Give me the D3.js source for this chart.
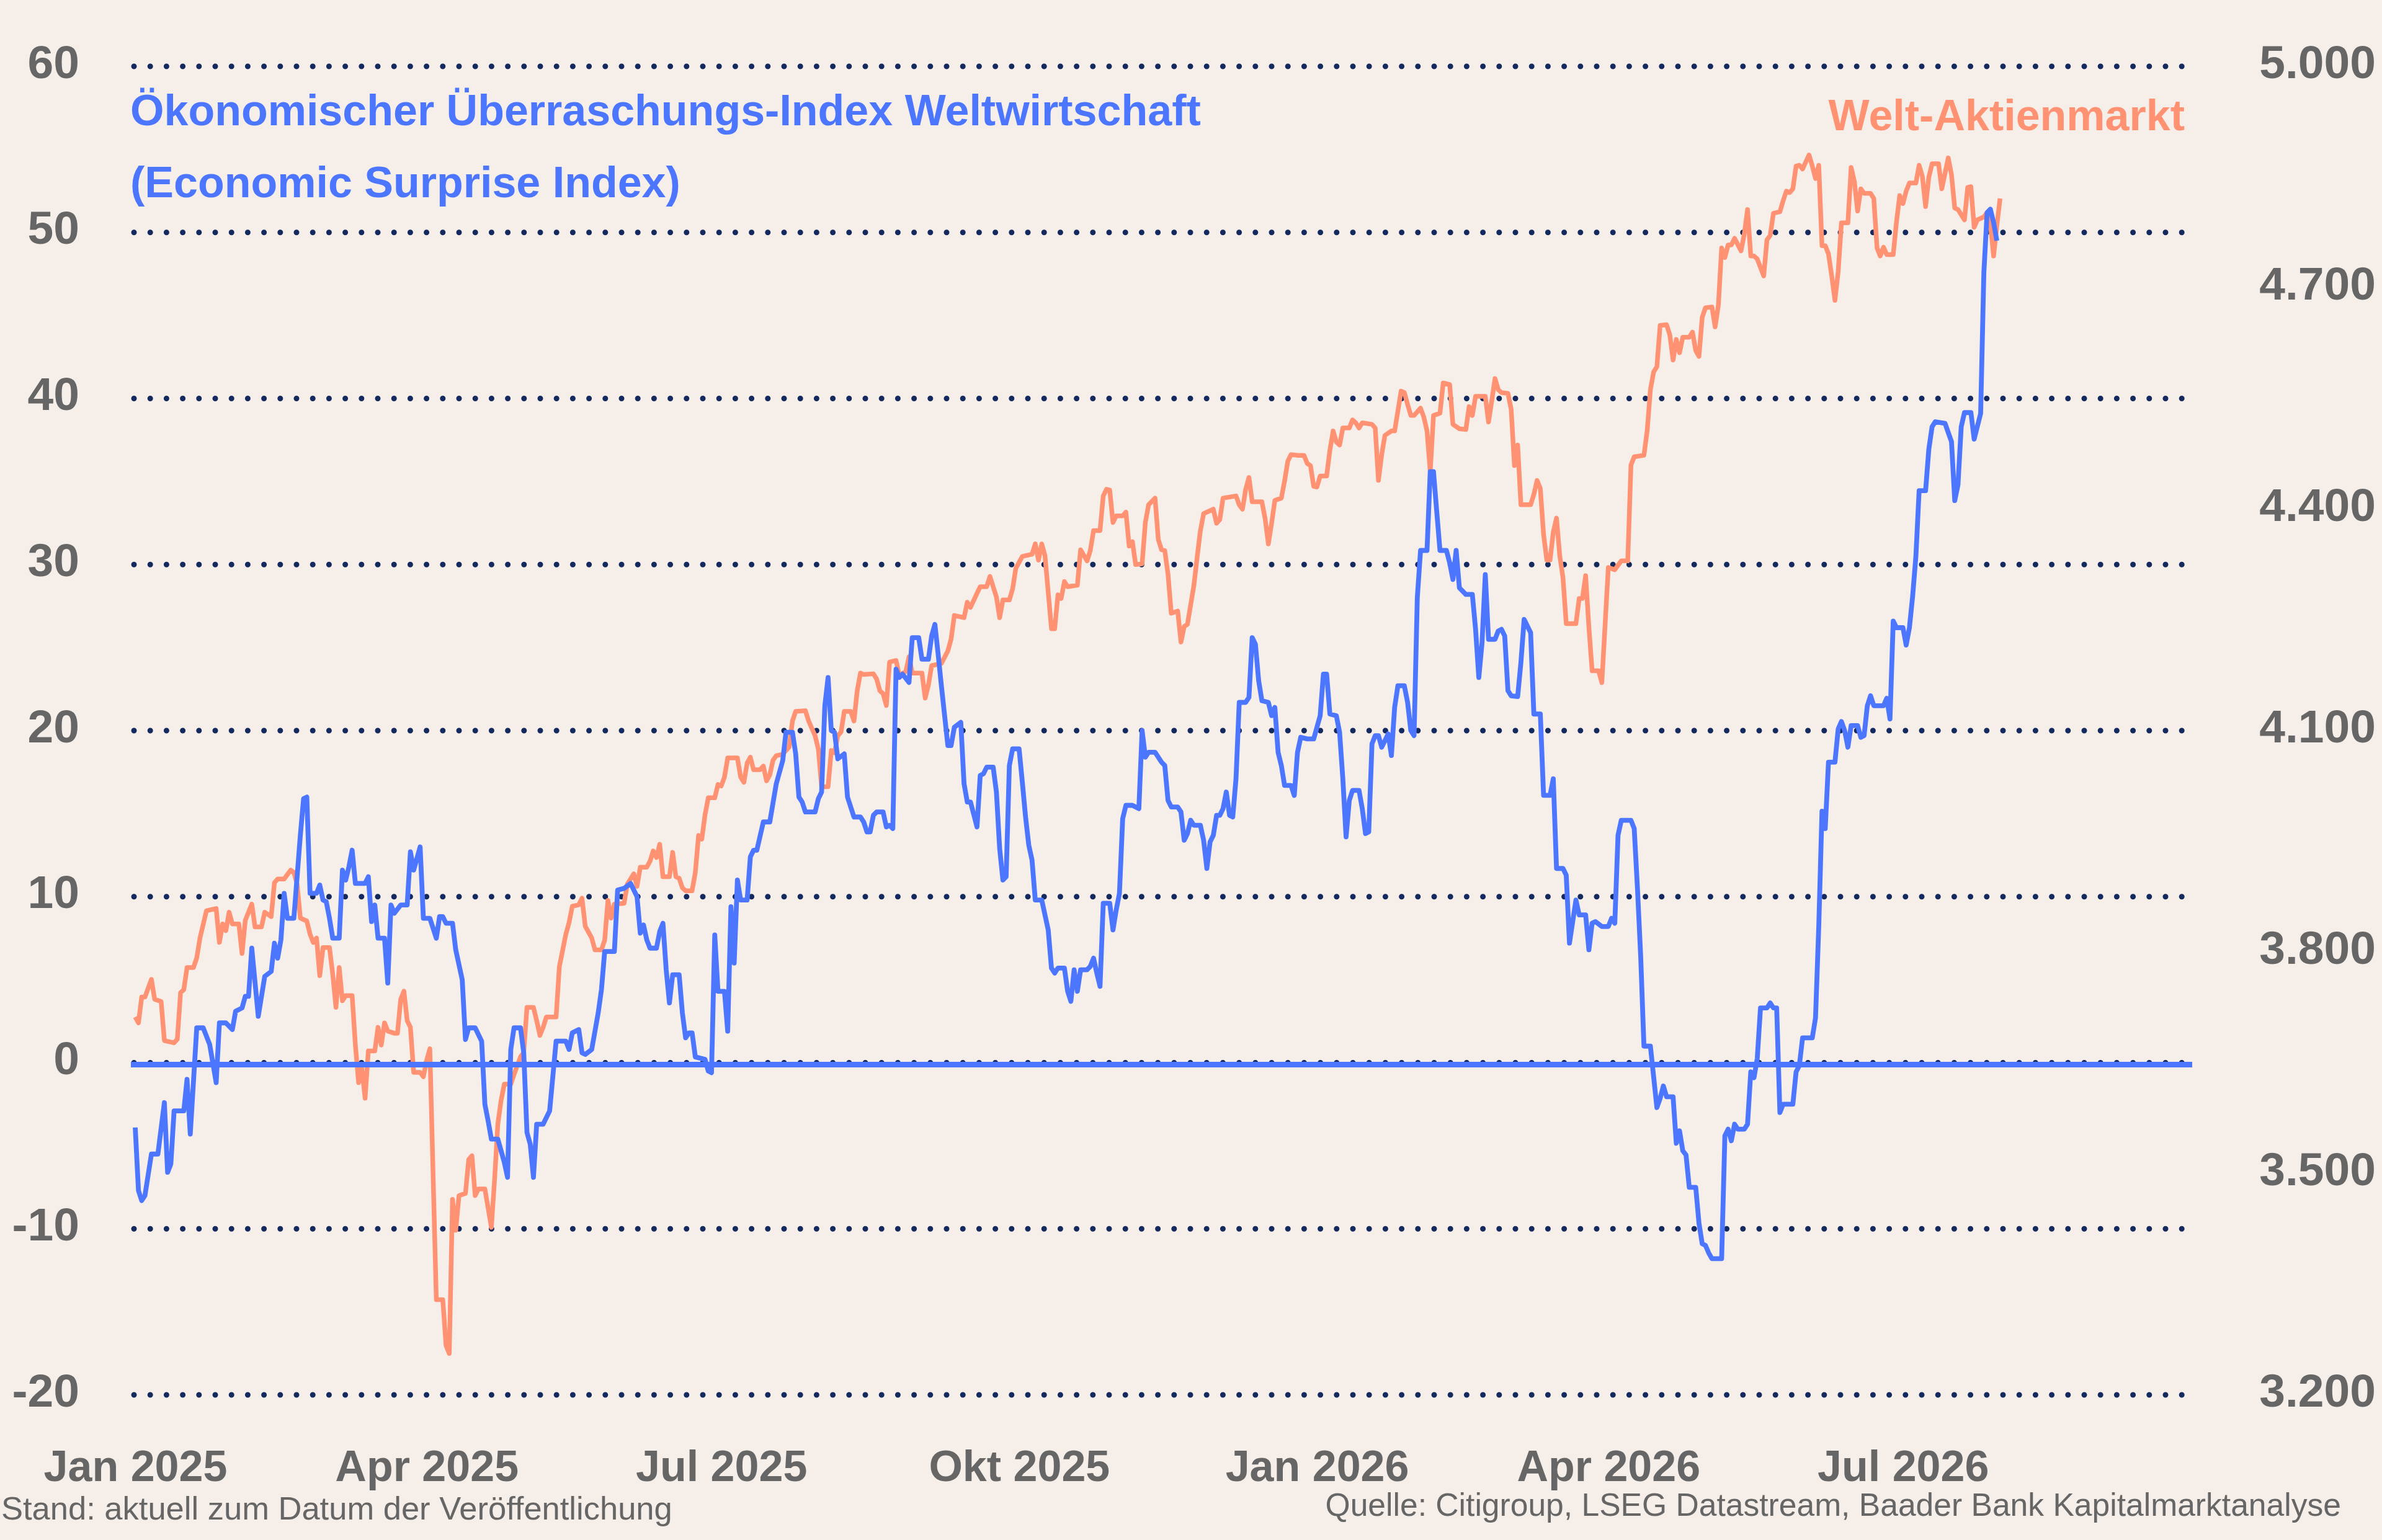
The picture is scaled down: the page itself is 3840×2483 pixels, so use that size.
<!DOCTYPE html>
<html lang="de">
<head>
<meta charset="utf-8">
<title>Economic Surprise Index vs. Welt-Aktienmarkt</title>
<script src="https://cdn.jsdelivr.net/npm/d3@7"></script>
<style>
    html, body { margin: 0; padding: 0; background: #f6efe9; }
    svg { display: block; font-family: 'Liberation Sans', Arial, sans-serif; }
</style>
</head>
<body>
<div id="chart"></div>
<script>
'use strict';
// left axis (surprise index) and right axis (world equities) ticks
const esiTicks = [-20, -10, 0, 10, 20, 30, 40, 50, 60]
const stockTicks = [3200, 3500, 3800, 4100, 4400, 4700, 5000]
const monthTicks = ['2025-01-01', '2025-04-01', '2025-07-01', '2025-10-01', '2026-01-01', '2026-04-01', '2026-07-01']
const monthLabels = ['Jan 2025', 'Apr 2025', 'Jul 2025', 'Okt 2025', 'Jan 2026', 'Apr 2026', 'Jul 2026']

// Citi Economic Surprise Index, global
const esiData = [
    ['2025-01-01', -3.9], ['2025-01-02', -7.7], ['2025-01-03', -8.3], ['2025-01-04', -8.0], ['2025-01-06', -5.5],
    ['2025-01-08', -5.5], ['2025-01-10', -2.4], ['2025-01-11', -6.6], ['2025-01-12', -6.1], ['2025-01-13', -2.9],
    ['2025-01-16', -2.9], ['2025-01-17', -1.0], ['2025-01-18', -4.3], ['2025-01-20', 2.1], ['2025-01-22', 2.1],
    ['2025-01-24', 1.1], ['2025-01-26', -1.2], ['2025-01-27', 2.4], ['2025-01-29', 2.4], ['2025-01-31', 2.0],
    ['2025-02-01', 3.1], ['2025-02-03', 3.3], ['2025-02-04', 4.0], ['2025-02-05', 4.0], ['2025-02-06', 6.9],
    ['2025-02-08', 2.8], ['2025-02-10', 5.2], ['2025-02-12', 5.5], ['2025-02-13', 7.2], ['2025-02-14', 6.3],
    ['2025-02-15', 7.4], ['2025-02-16', 10.2], ['2025-02-17', 8.7], ['2025-02-19', 8.7], ['2025-02-21', 13.7],
    ['2025-02-22', 15.9], ['2025-02-23', 16.0], ['2025-02-24', 10.2], ['2025-02-26', 10.2], ['2025-02-27', 10.7],
    ['2025-02-28', 9.8], ['2025-03-01', 9.7], ['2025-03-02', 8.7], ['2025-03-03', 7.5], ['2025-03-05', 7.5],
    ['2025-03-06', 11.6], ['2025-03-07', 11.0], ['2025-03-08', 11.8], ['2025-03-09', 12.8], ['2025-03-10', 10.8],
    ['2025-03-13', 10.8], ['2025-03-14', 11.2], ['2025-03-15', 8.5], ['2025-03-16', 9.5], ['2025-03-17', 7.5],
    ['2025-03-19', 7.5], ['2025-03-20', 4.8], ['2025-03-21', 9.5], ['2025-03-22', 9.0], ['2025-03-24', 9.5],
    ['2025-03-26', 9.5], ['2025-03-27', 12.7], ['2025-03-28', 11.6], ['2025-03-30', 13.0], ['2025-03-31', 8.7],
    ['2025-04-02', 8.7], ['2025-04-04', 7.5], ['2025-04-05', 8.8], ['2025-04-06', 8.8], ['2025-04-07', 8.4],
    ['2025-04-09', 8.4], ['2025-04-10', 6.8], ['2025-04-12', 5.0], ['2025-04-13', 1.4], ['2025-04-14', 2.1],
    ['2025-04-16', 2.1], ['2025-04-18', 1.3], ['2025-04-19', -2.5], ['2025-04-20', -3.5], ['2025-04-21', -4.6],
    ['2025-04-23', -4.6], ['2025-04-25', -6.0], ['2025-04-26', -6.9], ['2025-04-27', 0.8], ['2025-04-28', 2.1],
    ['2025-04-30', 2.1], ['2025-05-01', 0.6], ['2025-05-02', -4.2], ['2025-05-03', -4.9], ['2025-05-04', -6.9],
    ['2025-05-05', -3.7], ['2025-05-07', -3.7], ['2025-05-09', -2.9], ['2025-05-10', -0.8], ['2025-05-11', 1.3],
    ['2025-05-14', 1.3], ['2025-05-15', 0.8], ['2025-05-16', 1.8], ['2025-05-18', 2.0], ['2025-05-19', 0.6],
    ['2025-05-20', 0.5], ['2025-05-22', 0.8], ['2025-05-24', 3.0], ['2025-05-25', 4.4], ['2025-05-26', 6.7],
    ['2025-05-29', 6.7], ['2025-05-30', 10.4], ['2025-06-01', 10.5], ['2025-06-03', 10.8], ['2025-06-05', 10.0],
    ['2025-06-06', 7.8], ['2025-06-07', 8.3], ['2025-06-08', 7.4], ['2025-06-09', 6.9], ['2025-06-11', 6.9],
    ['2025-06-12', 7.9], ['2025-06-13', 8.4], ['2025-06-14', 5.6], ['2025-06-15', 3.6], ['2025-06-16', 5.3],
    ['2025-06-18', 5.3], ['2025-06-19', 3.0], ['2025-06-20', 1.5], ['2025-06-21', 1.8], ['2025-06-22', 1.8],
    ['2025-06-23', 0.35], ['2025-06-26', 0.2], ['2025-06-27', -0.5], ['2025-06-28', -0.6], ['2025-06-29', 7.7],
    ['2025-06-30', 4.3], ['2025-07-02', 4.3], ['2025-07-03', 1.9], ['2025-07-04', 9.4], ['2025-07-05', 6.0],
    ['2025-07-06', 11.0], ['2025-07-07', 9.8], ['2025-07-09', 9.8], ['2025-07-10', 12.4], ['2025-07-11', 12.8],
    ['2025-07-12', 12.8], ['2025-07-14', 14.5], ['2025-07-16', 14.5], ['2025-07-18', 16.8], ['2025-07-20', 18.2],
    ['2025-07-21', 19.9], ['2025-07-23', 19.9], ['2025-07-24', 18.6], ['2025-07-25', 16.0], ['2025-07-26', 15.7],
    ['2025-07-27', 15.1], ['2025-07-30', 15.1], ['2025-07-31', 15.9], ['2025-08-01', 16.3], ['2025-08-02', 21.5],
    ['2025-08-03', 23.2], ['2025-08-04', 20.0], ['2025-08-05', 19.9], ['2025-08-06', 18.3], ['2025-08-08', 18.6],
    ['2025-08-09', 16.0], ['2025-08-11', 14.8], ['2025-08-13', 14.8], ['2025-08-14', 14.5], ['2025-08-15', 13.9],
    ['2025-08-16', 13.9], ['2025-08-17', 14.9], ['2025-08-18', 15.1], ['2025-08-20', 15.1], ['2025-08-21', 14.2],
    ['2025-08-22', 14.3], ['2025-08-23', 14.1], ['2025-08-24', 23.7], ['2025-08-25', 23.2], ['2025-08-26', 23.4],
    ['2025-08-28', 22.9], ['2025-08-29', 25.6], ['2025-08-31', 25.6], ['2025-09-01', 24.3], ['2025-09-03', 24.3],
    ['2025-09-04', 25.7], ['2025-09-05', 26.4], ['2025-09-06', 24.6], ['2025-09-07', 22.7], ['2025-09-08', 20.9],
    ['2025-09-09', 19.1], ['2025-09-10', 19.1], ['2025-09-11', 20.2], ['2025-09-13', 20.5], ['2025-09-14', 16.8],
    ['2025-09-15', 15.7], ['2025-09-16', 15.7], ['2025-09-18', 14.2], ['2025-09-19', 17.3], ['2025-09-20', 17.4],
    ['2025-09-21', 17.8], ['2025-09-23', 17.8], ['2025-09-24', 16.3], ['2025-09-25', 12.9], ['2025-09-26', 11.0],
    ['2025-09-27', 11.2], ['2025-09-28', 17.9], ['2025-09-29', 18.9], ['2025-10-01', 18.9], ['2025-10-02', 16.9],
    ['2025-10-03', 14.8], ['2025-10-04', 13.1], ['2025-10-05', 12.2], ['2025-10-06', 9.8], ['2025-10-08', 9.8],
    ['2025-10-09', 8.9], ['2025-10-10', 8.0], ['2025-10-11', 5.7], ['2025-10-12', 5.4], ['2025-10-13', 5.7],
    ['2025-10-15', 5.7], ['2025-10-16', 4.3], ['2025-10-17', 3.7], ['2025-10-18', 5.6], ['2025-10-19', 4.3],
    ['2025-10-20', 5.6], ['2025-10-22', 5.6], ['2025-10-23', 5.8], ['2025-10-24', 6.3], ['2025-10-25', 5.4],
    ['2025-10-26', 4.6], ['2025-10-27', 9.6], ['2025-10-29', 9.6], ['2025-10-30', 8.0], ['2025-10-31', 9.2],
    ['2025-11-01', 10.2], ['2025-11-02', 14.7], ['2025-11-03', 15.5], ['2025-11-05', 15.5], ['2025-11-07', 15.3],
    ['2025-11-08', 20.0], ['2025-11-09', 18.4], ['2025-11-10', 18.7], ['2025-11-12', 18.7], ['2025-11-14', 18.1],
    ['2025-11-15', 17.9], ['2025-11-16', 15.8], ['2025-11-17', 15.4], ['2025-11-19', 15.4], ['2025-11-20', 15.1],
    ['2025-11-21', 13.4], ['2025-11-22', 13.8], ['2025-11-23', 14.6], ['2025-11-24', 14.3], ['2025-11-26', 14.3],
    ['2025-11-27', 13.4], ['2025-11-28', 11.7], ['2025-11-29', 13.3], ['2025-11-30', 13.7], ['2025-12-01', 14.9],
    ['2025-12-02', 14.9], ['2025-12-03', 15.3], ['2025-12-04', 16.3], ['2025-12-05', 14.9], ['2025-12-06', 14.8],
    ['2025-12-07', 17.1], ['2025-12-08', 21.7], ['2025-12-10', 21.7], ['2025-12-11', 22.0], ['2025-12-12', 25.6],
    ['2025-12-13', 25.2], ['2025-12-14', 23.0], ['2025-12-15', 21.8], ['2025-12-17', 21.7], ['2025-12-18', 20.9],
    ['2025-12-19', 21.4], ['2025-12-20', 18.7], ['2025-12-21', 17.9], ['2025-12-22', 16.7], ['2025-12-24', 16.7],
    ['2025-12-25', 16.1], ['2025-12-26', 18.7], ['2025-12-27', 19.6], ['2025-12-29', 19.5], ['2025-12-31', 19.5],
    ['2026-01-01', 20.2], ['2026-01-02', 20.9], ['2026-01-03', 23.4], ['2026-01-04', 23.4], ['2026-01-05', 21.0],
    ['2026-01-07', 20.9], ['2026-01-08', 19.9], ['2026-01-09', 17.1], ['2026-01-10', 13.6], ['2026-01-11', 15.8],
    ['2026-01-12', 16.4], ['2026-01-14', 16.4], ['2026-01-15', 15.3], ['2026-01-16', 13.8], ['2026-01-17', 13.9],
    ['2026-01-18', 19.2], ['2026-01-19', 19.7], ['2026-01-20', 19.7], ['2026-01-21', 19.0], ['2026-01-23', 19.8],
    ['2026-01-24', 18.5], ['2026-01-25', 21.4], ['2026-01-26', 22.7], ['2026-01-28', 22.7], ['2026-01-29', 21.7],
    ['2026-01-30', 20.0], ['2026-01-31', 19.7], ['2026-02-01', 28.0], ['2026-02-02', 30.85], ['2026-02-04', 30.85],
    ['2026-02-05', 35.6], ['2026-02-06', 35.6], ['2026-02-07', 33.2], ['2026-02-08', 30.85], ['2026-02-10', 30.85],
    ['2026-02-11', 30.1], ['2026-02-12', 29.1], ['2026-02-13', 30.85], ['2026-02-14', 28.6], ['2026-02-16', 28.2],
    ['2026-02-18', 28.2], ['2026-02-19', 26.1], ['2026-02-20', 23.2], ['2026-02-21', 25.3], ['2026-02-22', 29.4],
    ['2026-02-23', 25.5], ['2026-02-25', 25.5], ['2026-02-26', 26.0], ['2026-02-27', 26.1], ['2026-02-28', 25.7],
    ['2026-03-01', 22.4], ['2026-03-02', 22.1], ['2026-03-04', 22.05], ['2026-03-05', 24.1], ['2026-03-06', 26.7],
    ['2026-03-08', 25.9], ['2026-03-09', 21.0], ['2026-03-11', 21.0], ['2026-03-12', 16.1], ['2026-03-14', 16.1],
    ['2026-03-15', 17.1], ['2026-03-16', 11.7], ['2026-03-18', 11.7], ['2026-03-19', 11.3], ['2026-03-20', 7.2],
    ['2026-03-22', 9.8], ['2026-03-23', 8.9], ['2026-03-25', 8.9], ['2026-03-26', 6.8], ['2026-03-27', 8.4],
    ['2026-03-28', 8.5], ['2026-03-30', 8.2], ['2026-04-01', 8.2], ['2026-04-02', 8.7], ['2026-04-03', 8.4],
    ['2026-04-04', 13.7], ['2026-04-05', 14.6], ['2026-04-08', 14.6], ['2026-04-09', 14.1], ['2026-04-10', 10.5],
    ['2026-04-11', 6.4], ['2026-04-12', 1.0], ['2026-04-14', 1.0], ['2026-04-16', -2.7], ['2026-04-17', -2.15],
    ['2026-04-18', -1.4], ['2026-04-19', -2.05], ['2026-04-21', -2.05], ['2026-04-22', -4.85], ['2026-04-23', -4.1],
    ['2026-04-24', -5.3], ['2026-04-25', -5.55], ['2026-04-26', -7.5], ['2026-04-28', -7.5], ['2026-04-29', -9.66],
    ['2026-04-30', -10.9], ['2026-05-01', -11.0], ['2026-05-02', -11.45], ['2026-05-03', -11.8], ['2026-05-06', -11.8],
    ['2026-05-07', -4.4], ['2026-05-08', -4.0], ['2026-05-09', -4.7], ['2026-05-10', -3.7], ['2026-05-11', -4.0],
    ['2026-05-13', -4.0], ['2026-05-14', -3.7], ['2026-05-15', -0.55], ['2026-05-16', -0.9], ['2026-05-17', 0.26],
    ['2026-05-18', 3.3], ['2026-05-20', 3.3], ['2026-05-21', 3.6], ['2026-05-22', 3.3], ['2026-05-23', 3.3],
    ['2026-05-24', -3.0], ['2026-05-25', -2.5], ['2026-05-28', -2.5], ['2026-05-29', -0.55], ['2026-05-30', -0.17],
    ['2026-05-31', 1.5], ['2026-06-03', 1.5], ['2026-06-04', 2.7], ['2026-06-05', 8.2], ['2026-06-06', 15.15],
    ['2026-06-07', 14.1], ['2026-06-08', 18.1], ['2026-06-10', 18.1], ['2026-06-11', 20.1], ['2026-06-12', 20.55],
    ['2026-06-13', 20.0], ['2026-06-14', 19.0], ['2026-06-15', 20.3], ['2026-06-17', 20.3], ['2026-06-18', 19.6],
    ['2026-06-19', 19.7], ['2026-06-20', 21.5], ['2026-06-21', 22.1], ['2026-06-22', 21.5], ['2026-06-25', 21.5],
    ['2026-06-26', 21.95], ['2026-06-27', 20.7], ['2026-06-28', 26.6], ['2026-06-29', 26.2], ['2026-07-01', 26.2],
    ['2026-07-02', 25.15], ['2026-07-03', 26.2], ['2026-07-04', 28.1], ['2026-07-05', 30.5], ['2026-07-06', 34.45],
    ['2026-07-08', 34.45], ['2026-07-09', 36.95], ['2026-07-10', 38.3], ['2026-07-11', 38.6], ['2026-07-14', 38.5],
    ['2026-07-16', 37.4], ['2026-07-17', 33.85], ['2026-07-18', 34.8], ['2026-07-19', 38.3], ['2026-07-20', 39.15],
    ['2026-07-22', 39.15], ['2026-07-23', 37.55], ['2026-07-25', 39.1], ['2026-07-26', 47.6], ['2026-07-27', 51.2],
    ['2026-07-28', 51.4], ['2026-07-29', 50.6], ['2026-07-30', 49.5]
]

// world equity index, right axis
const stockData = [
    ['2025-01-01', 3712], ['2025-01-02', 3704], ['2025-01-03', 3739], ['2025-01-04', 3739], ['2025-01-06', 3763],
    ['2025-01-07', 3736], ['2025-01-09', 3733], ['2025-01-10', 3680], ['2025-01-13', 3677], ['2025-01-14', 3682],
    ['2025-01-15', 3745], ['2025-01-16', 3749], ['2025-01-17', 3779], ['2025-01-19', 3779], ['2025-01-20', 3792],
    ['2025-01-21', 3819], ['2025-01-23', 3856], ['2025-01-26', 3859], ['2025-01-27', 3813], ['2025-01-28', 3838],
    ['2025-01-29', 3829], ['2025-01-30', 3854], ['2025-01-31', 3838], ['2025-02-02', 3838], ['2025-02-03', 3798],
    ['2025-02-04', 3843], ['2025-02-06', 3865], ['2025-02-07', 3834], ['2025-02-09', 3834], ['2025-02-10', 3854],
    ['2025-02-12', 3848], ['2025-02-13', 3894], ['2025-02-14', 3899], ['2025-02-16', 3899], ['2025-02-18', 3911],
    ['2025-02-19', 3908], ['2025-02-20', 3892], ['2025-02-21', 3846], ['2025-02-23', 3842], ['2025-02-24', 3824],
    ['2025-02-25', 3813], ['2025-02-26', 3819], ['2025-02-27', 3768], ['2025-02-28', 3806], ['2025-03-02', 3806],
    ['2025-03-03', 3770], ['2025-03-04', 3725], ['2025-03-05', 3779], ['2025-03-06', 3734], ['2025-03-07', 3741],
    ['2025-03-09', 3741], ['2025-03-10', 3674], ['2025-03-11', 3623], ['2025-03-12', 3642], ['2025-03-13', 3602],
    ['2025-03-14', 3666], ['2025-03-16', 3666], ['2025-03-17', 3698], ['2025-03-18', 3674], ['2025-03-19', 3704],
    ['2025-03-20', 3693], ['2025-03-22', 3690], ['2025-03-23', 3690], ['2025-03-24', 3736], ['2025-03-25', 3747],
    ['2025-03-26', 3707], ['2025-03-27', 3698], ['2025-03-28', 3637], ['2025-03-30', 3637], ['2025-03-31', 3631],
    ['2025-04-01', 3653], ['2025-04-02', 3669], ['2025-04-04', 3329], ['2025-04-06', 3329], ['2025-04-07', 3267],
    ['2025-04-08', 3256], ['2025-04-09', 3465], ['2025-04-10', 3423], ['2025-04-11', 3470], ['2025-04-13', 3473],
    ['2025-04-14', 3519], ['2025-04-15', 3524], ['2025-04-16', 3470], ['2025-04-17', 3479], ['2025-04-19', 3479],
    ['2025-04-21', 3427], ['2025-04-22', 3492], ['2025-04-23', 3567], ['2025-04-24', 3599], ['2025-04-25', 3621],
    ['2025-04-27', 3621], ['2025-04-28', 3634], ['2025-04-30', 3658], ['2025-05-01', 3664], ['2025-05-02', 3725],
    ['2025-05-04', 3725], ['2025-05-05', 3707], ['2025-05-06', 3687], ['2025-05-07', 3698], ['2025-05-08', 3712],
    ['2025-05-11', 3712], ['2025-05-12', 3780], ['2025-05-14', 3824], ['2025-05-15', 3840], ['2025-05-16', 3862],
    ['2025-05-18', 3864], ['2025-05-19', 3873], ['2025-05-20', 3835], ['2025-05-22', 3819], ['2025-05-23', 3803],
    ['2025-05-25', 3803], ['2025-05-26', 3816], ['2025-05-27', 3870], ['2025-05-28', 3846], ['2025-05-29', 3865],
    ['2025-06-01', 3866], ['2025-06-02', 3892], ['2025-06-04', 3906], ['2025-06-05', 3889], ['2025-06-06', 3915],
    ['2025-06-08', 3915], ['2025-06-09', 3923], ['2025-06-10', 3937], ['2025-06-11', 3928], ['2025-06-12', 3946],
    ['2025-06-13', 3902], ['2025-06-15', 3902], ['2025-06-16', 3935], ['2025-06-17', 3902], ['2025-06-18', 3900],
    ['2025-06-19', 3887], ['2025-06-20', 3883], ['2025-06-22', 3883], ['2025-06-23', 3908], ['2025-06-24', 3958],
    ['2025-06-25', 3953], ['2025-06-26', 3986], ['2025-06-27', 4009], ['2025-06-29', 4009], ['2025-06-30', 4027],
    ['2025-07-01', 4025], ['2025-07-02', 4037], ['2025-07-03', 4063], ['2025-07-06', 4063], ['2025-07-07', 4037],
    ['2025-07-08', 4030], ['2025-07-09', 4056], ['2025-07-10', 4064], ['2025-07-11', 4047], ['2025-07-13', 4047],
    ['2025-07-14', 4052], ['2025-07-15', 4032], ['2025-07-16', 4040], ['2025-07-17', 4060], ['2025-07-18', 4066],
    ['2025-07-20', 4068], ['2025-07-21', 4073], ['2025-07-22', 4078], ['2025-07-23', 4113], ['2025-07-24', 4126],
    ['2025-07-27', 4127], ['2025-07-28', 4113], ['2025-07-29', 4103], ['2025-07-30', 4093], ['2025-07-31', 4075],
    ['2025-08-01', 4024], ['2025-08-03', 4024], ['2025-08-04', 4073], ['2025-08-05', 4070], ['2025-08-06', 4093],
    ['2025-08-07', 4098], ['2025-08-08', 4126], ['2025-08-10', 4126], ['2025-08-11', 4113], ['2025-08-12', 4154],
    ['2025-08-13', 4178], ['2025-08-14', 4176], ['2025-08-17', 4177], ['2025-08-18', 4170], ['2025-08-19', 4154],
    ['2025-08-20', 4150], ['2025-08-21', 4134], ['2025-08-22', 4193], ['2025-08-24', 4195], ['2025-08-25', 4175],
    ['2025-08-27', 4180], ['2025-08-28', 4200], ['2025-08-29', 4178], ['2025-09-01', 4178], ['2025-09-02', 4144],
    ['2025-09-03', 4162], ['2025-09-04', 4188], ['2025-09-07', 4191], ['2025-09-09', 4208], ['2025-09-10', 4224],
    ['2025-09-11', 4256], ['2025-09-14', 4253], ['2025-09-15', 4274], ['2025-09-16', 4267], ['2025-09-18', 4286],
    ['2025-09-19', 4295], ['2025-09-21', 4295], ['2025-09-22', 4309], ['2025-09-24', 4281], ['2025-09-25', 4253],
    ['2025-09-26', 4277], ['2025-09-28', 4277], ['2025-09-29', 4292], ['2025-09-30', 4320], ['2025-10-02', 4336],
    ['2025-10-05', 4339], ['2025-10-06', 4353], ['2025-10-07', 4331], ['2025-10-08', 4353], ['2025-10-09', 4337],
    ['2025-10-11', 4238], ['2025-10-12', 4238], ['2025-10-13', 4284], ['2025-10-14', 4279], ['2025-10-15', 4302],
    ['2025-10-16', 4295], ['2025-10-19', 4297], ['2025-10-20', 4345], ['2025-10-22', 4330], ['2025-10-23', 4344],
    ['2025-10-24', 4371], ['2025-10-26', 4371], ['2025-10-27', 4418], ['2025-10-28', 4427], ['2025-10-29', 4426],
    ['2025-10-30', 4382], ['2025-10-31', 4391], ['2025-11-02', 4391], ['2025-11-03', 4396], ['2025-11-04', 4350],
    ['2025-11-05', 4356], ['2025-11-06', 4325], ['2025-11-08', 4326], ['2025-11-09', 4382], ['2025-11-10', 4406],
    ['2025-11-12', 4415], ['2025-11-13', 4359], ['2025-11-14', 4345], ['2025-11-15', 4344], ['2025-11-16', 4312],
    ['2025-11-17', 4259], ['2025-11-19', 4262], ['2025-11-20', 4220], ['2025-11-21', 4241], ['2025-11-22', 4244],
    ['2025-11-24', 4297], ['2025-11-25', 4335], ['2025-11-26', 4371], ['2025-11-27', 4394], ['2025-11-30', 4400],
    ['2025-12-01', 4381], ['2025-12-02', 4386], ['2025-12-03', 4415], ['2025-12-07', 4418], ['2025-12-08', 4406],
    ['2025-12-09', 4400], ['2025-12-10', 4427], ['2025-12-11', 4443], ['2025-12-12', 4410], ['2025-12-15', 4410],
    ['2025-12-16', 4387], ['2025-12-17', 4353], ['2025-12-18', 4381], ['2025-12-19', 4412], ['2025-12-21', 4415],
    ['2025-12-22', 4438], ['2025-12-23', 4465], ['2025-12-24', 4474], ['2025-12-26', 4473], ['2025-12-28', 4473],
    ['2025-12-29', 4462], ['2025-12-30', 4459], ['2025-12-31', 4431], ['2026-01-01', 4430], ['2026-01-02', 4445],
    ['2026-01-04', 4445], ['2026-01-05', 4480], ['2026-01-06', 4506], ['2026-01-07', 4491], ['2026-01-08', 4487],
    ['2026-01-09', 4510], ['2026-01-11', 4510], ['2026-01-12', 4521], ['2026-01-13', 4517], ['2026-01-14', 4510],
    ['2026-01-15', 4517], ['2026-01-18', 4515], ['2026-01-19', 4510], ['2026-01-20', 4439], ['2026-01-21', 4474],
    ['2026-01-22', 4500], ['2026-01-24', 4506], ['2026-01-25', 4506], ['2026-01-26', 4533], ['2026-01-27', 4560],
    ['2026-01-28', 4558], ['2026-01-29', 4542], ['2026-01-30', 4527], ['2026-01-31', 4527], ['2026-02-02', 4537],
    ['2026-02-03', 4525], ['2026-02-04', 4506], ['2026-02-05', 4451], ['2026-02-06', 4527], ['2026-02-08', 4530],
    ['2026-02-09', 4571], ['2026-02-11', 4569], ['2026-02-12', 4515], ['2026-02-14', 4509], ['2026-02-16', 4508],
    ['2026-02-17', 4539], ['2026-02-18', 4527], ['2026-02-19', 4553], ['2026-02-22', 4553], ['2026-02-23', 4518],
    ['2026-02-24', 4547], ['2026-02-25', 4577], ['2026-02-26', 4562], ['2026-02-27', 4558], ['2026-03-01', 4557],
    ['2026-03-02', 4535], ['2026-03-03', 4459], ['2026-03-04', 4487], ['2026-03-05', 4406], ['2026-03-08', 4406],
    ['2026-03-09', 4420], ['2026-03-10', 4439], ['2026-03-11', 4428], ['2026-03-12', 4366], ['2026-03-13', 4331],
    ['2026-03-14', 4331], ['2026-03-15', 4369], ['2026-03-16', 4388], ['2026-03-17', 4337], ['2026-03-18', 4307],
    ['2026-03-19', 4245], ['2026-03-22', 4245], ['2026-03-23', 4279], ['2026-03-24', 4279], ['2026-03-25', 4310],
    ['2026-03-26', 4240], ['2026-03-27', 4181], ['2026-03-29', 4181], ['2026-03-30', 4165], ['2026-04-01', 4321],
    ['2026-04-03', 4318], ['2026-04-05', 4330], ['2026-04-07', 4330], ['2026-04-08', 4460], ['2026-04-09', 4471],
    ['2026-04-12', 4473], ['2026-04-13', 4506], ['2026-04-14', 4562], ['2026-04-15', 4586], ['2026-04-16', 4593],
    ['2026-04-17', 4649], ['2026-04-19', 4650], ['2026-04-20', 4636], ['2026-04-21', 4602], ['2026-04-22', 4630],
    ['2026-04-23', 4612], ['2026-04-24', 4633], ['2026-04-26', 4633], ['2026-04-27', 4640], ['2026-04-28', 4615],
    ['2026-04-29', 4607], ['2026-04-30', 4660], ['2026-05-01', 4673], ['2026-05-03', 4674], ['2026-05-04', 4647],
    ['2026-05-05', 4677], ['2026-05-06', 4754], ['2026-05-07', 4741], ['2026-05-08', 4758], ['2026-05-09', 4758],
    ['2026-05-10', 4767], ['2026-05-12', 4750], ['2026-05-13', 4773], ['2026-05-14', 4806], ['2026-05-15', 4743],
    ['2026-05-16', 4743], ['2026-05-17', 4739], ['2026-05-19', 4716], ['2026-05-20', 4765], ['2026-05-21', 4771],
    ['2026-05-22', 4801], ['2026-05-24', 4803], ['2026-05-25', 4818], ['2026-05-26', 4831], ['2026-05-27', 4829],
    ['2026-05-28', 4834], ['2026-05-29', 4865], ['2026-05-30', 4866], ['2026-05-31', 4861], ['2026-06-02', 4880],
    ['2026-06-03', 4865], ['2026-06-04', 4848], ['2026-06-05', 4866], ['2026-06-06', 4757], ['2026-06-07', 4757],
    ['2026-06-08', 4746], ['2026-06-09', 4716], ['2026-06-10', 4683], ['2026-06-11', 4722], ['2026-06-12', 4788],
    ['2026-06-14', 4788], ['2026-06-15', 4863], ['2026-06-16', 4844], ['2026-06-17', 4804], ['2026-06-18', 4834],
    ['2026-06-19', 4828], ['2026-06-21', 4828], ['2026-06-22', 4821], ['2026-06-23', 4754], ['2026-06-24', 4743],
    ['2026-06-25', 4755], ['2026-06-26', 4745], ['2026-06-28', 4745], ['2026-06-29', 4789], ['2026-06-30', 4825],
    ['2026-07-01', 4814], ['2026-07-02', 4831], ['2026-07-03', 4842], ['2026-07-05', 4842], ['2026-07-06', 4866],
    ['2026-07-07', 4851], ['2026-07-08', 4810], ['2026-07-09', 4850], ['2026-07-10', 4868], ['2026-07-12', 4868],
    ['2026-07-13', 4834], ['2026-07-14', 4855], ['2026-07-15', 4876], ['2026-07-16', 4853], ['2026-07-17', 4808],
    ['2026-07-18', 4806], ['2026-07-20', 4792], ['2026-07-21', 4836], ['2026-07-22', 4837], ['2026-07-23', 4782],
    ['2026-07-24', 4792], ['2026-07-26', 4796], ['2026-07-27', 4802], ['2026-07-28', 4787], ['2026-07-29', 4743],
    ['2026-07-30', 4784], ['2026-07-31', 4821]
]

const blue = '#4d76ff'
const orange = '#ff9273'
const navy = '#14295e'
const grey = '#666666'

const width = 3840
const height = 2483
const parseDate = d3.timeParse('%Y-%m-%d')
const deLocale = d3.formatLocale({ decimal: ',', thousands: '.', grouping: [3], currency: ['', ' €'] })
const fmtThousands = deLocale.format(',d')

const esi = esiData.map(d => ({ date: parseDate(d[0]), value: d[1] }))
const stock = stockData.map(d => ({ date: parseDate(d[0]), value: d[1] }))

const x = d3.scaleTime()
    .domain([parseDate('2025-01-01'), parseDate('2026-09-27')])
    .range([218, 3527])
const yLeft = d3.scaleLinear()
    .domain([-20, 60])
    .range([2249, 107])
const yRight = d3.scaleLinear()
    .domain([3200, 5000])
    .range([2249, 107])

const svg = d3.select('#chart').append('svg')
    .attr('width', width)
    .attr('height', height)
    .attr('viewBox', `0 0 ${width} ${height}`)

svg.append('rect') // background
    .attr('width', width)
    .attr('height', height)
    .attr('fill', '#f6efe9')

svg.append('g').selectAll('line') // dotted horizontal gridlines
    .data(esiTicks).enter().append('line')
    .attr('x1', 216)
    .attr('x2', x.range()[1])
    .attr('y1', d => yLeft(d))
    .attr('y2', d => yLeft(d))
    .attr('stroke', navy)
    .attr('stroke-width', 9)
    .attr('stroke-linecap', 'round')
    .attr('stroke-dasharray', '0 26.2')

const esiLine = d3.line()
    .x(d => x(d.date))
    .y(d => yLeft(d.value))
const stockLine = d3.line()
    .x(d => x(d.date))
    .y(d => yRight(d.value))

svg.append('path').datum(stock) // world equities, right axis
    .attr('fill', 'none')
    .attr('stroke', orange)
    .attr('stroke-width', 7.5)
    .attr('stroke-linejoin', 'round')
    .attr('d', stockLine)

svg.append('line') // solid zero line
    .attr('x1', 211)
    .attr('x2', 3534)
    .attr('y1', yLeft(0) + 3)
    .attr('y2', yLeft(0) + 3)
    .attr('stroke', blue)
    .attr('stroke-width', 9)

svg.append('path').datum(esi) // surprise index, left axis
    .attr('fill', 'none')
    .attr('stroke', blue)
    .attr('stroke-width', 7.8)
    .attr('stroke-linejoin', 'round')
    .attr('d', esiLine)

// axes: no domain, no tick marks, only labels
svg.append('g')
    .attr('class', 'yAxisLeft')
    .attr('transform', 'translate(128,0)')
    .call(d3.axisLeft(yLeft).tickValues(esiTicks).tickSize(0).tickPadding(0).tickFormat(d => String(d)))
    .call(g => g.select('.domain').remove())
    .attr('font-size', 75)
    .attr('font-family', null)
    .attr('font-weight', 'bold')
    .call(g => g.selectAll('text').attr('fill', grey).attr('dy', '0.24em'))

svg.append('g')
    .attr('class', 'yAxisRight')
    .attr('transform', 'translate(3830,0)')
    .call(d3.axisRight(yRight).tickValues(stockTicks).tickSize(0).tickPadding(0).tickFormat(fmtThousands))
    .call(g => g.select('.domain').remove())
    .attr('font-size', 75)
    .attr('font-family', null)
    .attr('font-weight', 'bold')
    .attr('text-anchor', 'end')
    .call(g => g.selectAll('text').attr('fill', grey).attr('dy', '0.24em'))

svg.append('g')
    .attr('class', 'xAxis')
    .attr('transform', 'translate(0,2388)')
    .call(d3.axisBottom(x).tickValues(monthTicks.map(parseDate)).tickSize(0).tickPadding(0)
        .tickFormat((d, i) => monthLabels[i]))
    .call(g => g.select('.domain').remove())
    .attr('font-size', 70)
    .attr('font-family', null)
    .attr('font-weight', 'bold')
    .call(g => g.selectAll('text').attr('fill', grey).attr('dy', 0))

// series labels
svg.append('text')
    .attr('x', 210)
    .attr('y', 202)
    .attr('fill', blue)
    .attr('font-size', 70)
    .attr('font-weight', 'bold')
    .text('Ökonomischer Überraschungs-Index Weltwirtschaft')
svg.append('text')
    .attr('x', 210)
    .attr('y', 318)
    .attr('fill', blue)
    .attr('font-size', 70)
    .attr('font-weight', 'bold')
    .text('(Economic Surprise Index)')
svg.append('text')
    .attr('x', 3522)
    .attr('y', 210)
    .attr('fill', orange)
    .attr('font-size', 70)
    .attr('font-weight', 'bold')
    .attr('text-anchor', 'end')
    .text('Welt-Aktienmarkt')

// footer
svg.append('text')
    .attr('x', 2)
    .attr('y', 2450)
    .attr('fill', grey)
    .attr('font-size', 52.5)
    .text('Stand: aktuell zum Datum der Veröffentlichung')
svg.append('text')
    .attr('x', 3774)
    .attr('y', 2444)
    .attr('fill', grey)
    .attr('font-size', 51.6)
    .attr('text-anchor', 'end')
    .text('Quelle: Citigroup, LSEG Datastream, Baader Bank Kapitalmarktanalyse')
</script>
</body>
</html>
